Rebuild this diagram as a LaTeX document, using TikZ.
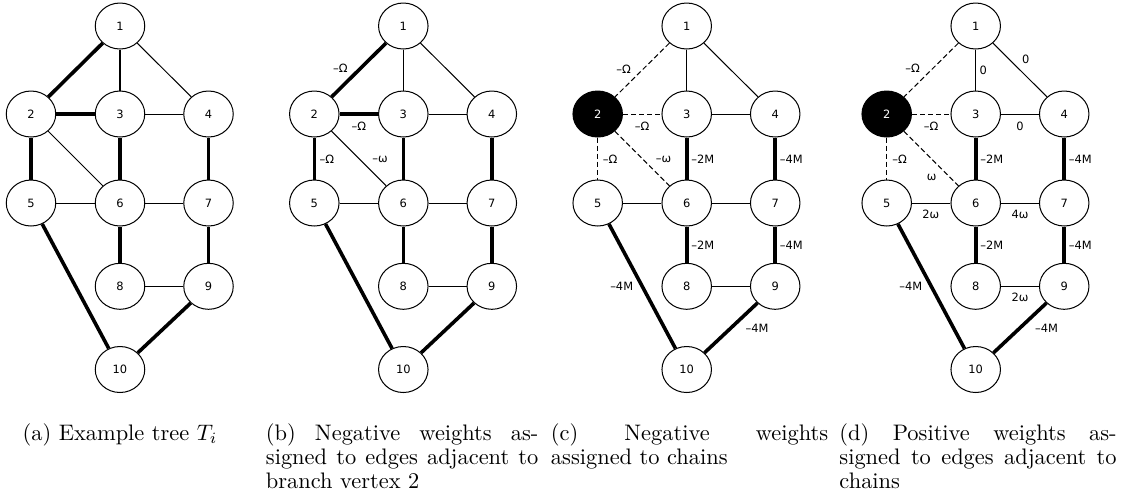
\documentclass[tikz,border=0pt]{standalone}
\usepackage{fontspec}
\newfontfamily\lblfont{DejaVu Sans}
\usetikzlibrary{shapes.geometric}

\tikzset{
  vtx/.style={ellipse, draw, line width=0.45pt, fill=white,
    minimum width=22.07pt, minimum height=20.51pt, inner sep=0pt,
    font=\lblfont\fontsize{5.1}{6}\selectfont},
  hub/.style={vtx, fill=black, text=white},
  lite/.style={line width=0.45pt},
  bold/.style={line width=1.6pt},
  brk/.style={line width=0.45pt, dash pattern=on 2.3pt off 1.3pt},
  lbl/.style={inner sep=0pt, font=\lblfont\fontsize{5.1}{6}\selectfont},
  capline/.style={inner sep=0pt, anchor=base west, font=\fontsize{10}{10.84}\selectfont},
}

% the ten vertices of one graph: #1 name prefix, #2 x of the middle column, #3 style of vertex 2
\newcommand\placevertices[3]{%
  \begin{scope}[shift={(#2,0)}]
    \node[vtx] (#1-1)  at (0,26)       {1};
    \node[#3]  (#1-2)  at (-89,114)    {2};
    \node[vtx] (#1-3)  at (0,114)      {3};
    \node[vtx] (#1-4)  at (88.5,114)   {4};
    \node[vtx] (#1-5)  at (-89,203)    {5};
    \node[vtx] (#1-6)  at (0,203)      {6};
    \node[vtx] (#1-7)  at (88.5,203)   {7};
    \node[vtx] (#1-8)  at (0,286.3)    {8};
    \node[vtx] (#1-9)  at (88.5,286.3) {9};
    \node[vtx] (#1-10) at (0,369.5)    {10};
  \end{scope}}

\begin{document}
\begin{tikzpicture}[x=0.4459pt, y=-0.4459pt]
\useasboundingbox (0,0) rectangle (1123,499);

% ---------- (a) example tree ----------
\placevertices{a}{120}{vtx}
\draw[bold] (a-1) -- (a-2);
\draw[lite] (a-1) -- (a-3);
\draw[lite] (a-1) -- (a-4);
\draw[bold] (a-2) -- (a-3);
\draw[lite] (a-3) -- (a-4);
\draw[bold] (a-2) -- (a-5);
\draw[lite] (a-2) -- (a-6);
\draw[bold] (a-3) -- (a-6);
\draw[bold] (a-4) -- (a-7);
\draw[lite] (a-5) -- (a-6);
\draw[lite] (a-6) -- (a-7);
\draw[bold] (a-5) -- (a-10);
\draw[bold] (a-6) -- (a-8);
\draw[bold] (a-7) -- (a-9);
\draw[lite] (a-8) -- (a-9);
\draw[bold] (a-9) -- (a-10);

% ---------- (b) weights on edges at the branch vertex ----------
\placevertices{b}{403.3}{vtx}
\draw[bold] (b-1) -- node[lbl, shift={(-18.5,-1.5)}] {–Ω} (b-2);
\draw[lite] (b-1) -- (b-3);
\draw[lite] (b-1) -- (b-4);
\draw[bold] (b-2) -- node[lbl, shift={(0,12)}] {–Ω} (b-3);
\draw[lite] (b-3) -- (b-4);
\draw[bold] (b-2) -- node[lbl, shift={(12.5,0.5)}] {–Ω} (b-5);
\draw[lite] (b-2) -- node[lbl, shift={(21.3,1)}] {–ω} (b-6);
\draw[bold] (b-3) -- (b-6);
\draw[bold] (b-4) -- (b-7);
\draw[lite] (b-5) -- (b-6);
\draw[lite] (b-6) -- (b-7);
\draw[bold] (b-5) -- (b-10);
\draw[bold] (b-6) -- (b-8);
\draw[bold] (b-7) -- (b-9);
\draw[lite] (b-8) -- (b-9);
\draw[bold] (b-9) -- (b-10);

% ---------- (c) weights on the chains ----------
\placevertices{c}{686.7}{hub}
\draw[brk]  (c-1) -- node[lbl, shift={(-18.5,-0.5)}] {–Ω} (c-2);
\draw[lite] (c-1) -- (c-3);
\draw[lite] (c-1) -- (c-4);
\draw[brk]  (c-2) -- node[lbl, shift={(0,12)}] {–Ω} (c-3);
\draw[lite] (c-3) -- (c-4);
\draw[brk]  (c-2) -- node[lbl, shift={(12.5,0.5)}] {–Ω} (c-5);
\draw[brk]  (c-2) -- node[lbl, shift={(21.3,1)}] {–ω} (c-6);
\draw[bold] (c-3) -- node[lbl, shift={(16.2,0.5)}] {–2M} (c-6);
\draw[bold] (c-4) -- node[lbl, shift={(16.2,0.5)}] {–4M} (c-7);
\draw[lite] (c-5) -- (c-6);
\draw[lite] (c-6) -- (c-7);
\draw[bold] (c-5) -- node[lbl, shift={(-20.5,0.4)}] {–4M} (c-10);
\draw[bold] (c-6) -- node[lbl, shift={(16.2,0.3)}] {–2M} (c-8);
\draw[bold] (c-7) -- node[lbl, shift={(16.2,0.3)}] {–4M} (c-9);
\draw[lite] (c-8) -- (c-9);
\draw[bold] (c-9) -- node[lbl, shift={(26,0.3)}] {–4M} (c-10);

% ---------- (d) positive weights next to the chains ----------
\placevertices{d}{975.7}{hub}
\draw[brk]  (d-1) -- node[lbl, shift={(-18.5,-1.5)}] {–Ω} (d-2);
\draw[lite] (d-1) -- node[lbl, shift={(7.6,0)}] {0} (d-3);
\draw[lite] (d-1) -- node[lbl, shift={(5.8,-10.7)}] {0} (d-4);
\draw[brk]  (d-2) -- node[lbl, shift={(0,12)}] {–Ω} (d-3);
\draw[lite] (d-3) -- node[lbl, shift={(0,12)}] {0} (d-4);
\draw[brk]  (d-2) -- node[lbl, shift={(13,0.5)}] {–Ω} (d-5);
\draw[brk]  (d-2) -- node[lbl, shift={(0.5,19)}] {ω} (d-6);
\draw[bold] (d-3) -- node[lbl, shift={(16.2,0.5)}] {–2M} (d-6);
\draw[bold] (d-4) -- node[lbl, shift={(16.2,0.5)}] {–4M} (d-7);
\draw[lite] (d-5) -- node[lbl, shift={(-0.5,11.3)}] {2ω} (d-6);
\draw[lite] (d-6) -- node[lbl, shift={(0,11.3)}] {4ω} (d-7);
\draw[bold] (d-5) -- node[lbl, shift={(-20.5,0.4)}] {–4M} (d-10);
\draw[bold] (d-6) -- node[lbl, shift={(16.2,0.3)}] {–2M} (d-8);
\draw[bold] (d-7) -- node[lbl, shift={(16.2,0.3)}] {–4M} (d-9);
\draw[lite] (d-8) -- node[lbl, shift={(0,11.4)}] {2ω} (d-9);
\draw[bold] (d-9) -- node[lbl, shift={(26.5,0.3)}] {–4M} (d-10);

% ---------- captions ----------
\node[capline, anchor=base] (capa) at (120,440) {(a) Example tree $T_i$};

\node[capline] (capb1) at (265.5,440)   {\makebox[121.5pt][s]{(b) Negative weights as-}};
\node[capline] (capb2) at (265.5,464.3) {\makebox[121.5pt][s]{signed to edges adjacent to}};
\node[capline] (capb3) at (265.5,488.6) {branch vertex 2};

\node[capline] (capc1) at (550.5,440)   {\makebox[123.6pt][s]{(c) Negative weights}};
\node[capline] (capc2) at (550.5,464.3) {assigned to chains};

\node[capline] (capd1) at (839,440)   {\makebox[123.6pt][s]{(d) Positive weights as-}};
\node[capline] (capd2) at (839,464.3) {\makebox[123.6pt][s]{signed to edges adjacent to}};
\node[capline] (capd3) at (839,488.6) {chains};
\end{tikzpicture}
\end{document}
